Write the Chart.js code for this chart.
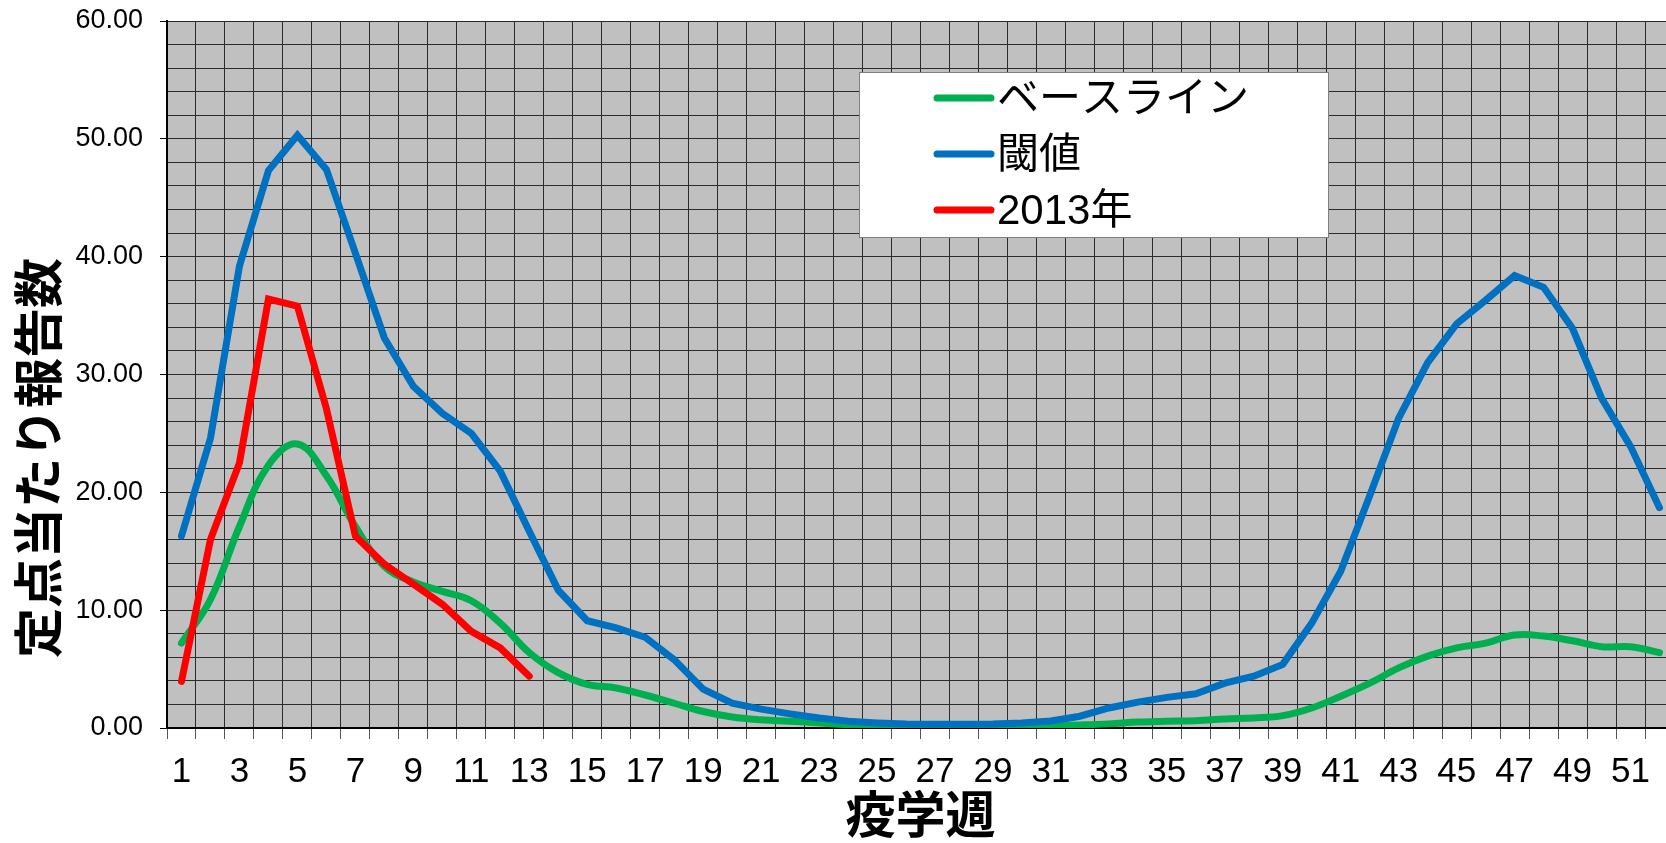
<!DOCTYPE html>
<html>
<head>
<meta charset="utf-8">
<script src="https://cdn.jsdelivr.net/npm/chart.js@4.4.1/dist/chart.umd.min.js"></script>
<style>
html,body{margin:0;padding:0;background:#fff;overflow:hidden;width:1666px;height:843px}
canvas{display:block}
</style>
</head>
<body>
<canvas id="c" width="1675" height="843"></canvas>
<script>
// ---- data ----
const weekLabels = ['1','2','3','4','5','6','7','8','9','10','11','12','13','14','15','16','17','18','19','20','21','22','23','24','25','26','27','28','29','30','31','32','33','34','35','36','37','38','39','40','41','42','43','44','45','46','47','48','49','50','51','52'];
const baseline = [7.2,10.9,17.1,22.3,24.1,21.4,17.1,13.7,12.4,11.6,10.8,8.9,6.4,4.7,3.7,3.4,2.8,2.1,1.4,0.94,0.7,0.57,0.43,0.28,0.2,0.15,0.14,0.14,0.14,0.15,0.2,0.26,0.35,0.5,0.57,0.62,0.76,0.85,1.05,1.7,2.7,3.8,5.1,6.1,6.8,7.2,7.9,7.8,7.4,6.9,6.9,6.4];
const threshold = [16.3,24.6,39.2,47.3,50.3,47.4,40.3,33.1,29.0,26.7,25.0,21.8,16.7,11.7,9.1,8.5,7.7,5.8,3.3,2.1,1.6,1.2,0.85,0.57,0.43,0.34,0.31,0.31,0.34,0.43,0.6,1.0,1.7,2.2,2.6,2.9,3.8,4.4,5.4,8.9,13.3,19.7,26.3,31.0,34.3,36.3,38.4,37.4,33.9,28.0,23.9,18.7];
const y2013 = [3.96,16.0,22.5,36.4,35.8,27.1,16.3,13.9,12.2,10.5,8.2,6.8,4.4];
const seriesNames = ['ベースライン','閾値','2013年'];
const xTitleText = '疫学週';
const yTitleText = '定点当たり報告数';
const yMin = 0, yMax = 60, yStep = 2, yLabelStep = 10;

// ---- plugins ----
const plotBg = {
  id: 'plotBg',
  beforeDraw(chart) {
    const {ctx, chartArea: a} = chart;
    ctx.save();
    ctx.fillStyle = '#c0c0c0';
    ctx.fillRect(a.left, a.top, a.right - a.left, a.bottom - a.top);
    ctx.restore();
  }
};
const yTitle = {
  id: 'yTitle',
  afterDraw(chart) {
    const ctx = chart.ctx;
    ctx.save();
    ctx.translate(38, 458);
    ctx.rotate(-Math.PI / 2);
    ctx.font = 'bold 50px "Noto Sans CJK JP"';
    ctx.textAlign = 'center';
    ctx.textBaseline = 'middle';
    ctx.fillStyle = '#000';
    ctx.fillText(yTitleText, 0, 0);
    ctx.restore();
  }
};
const legendBox = {
  id: 'legendBox',
  afterDraw(chart) {
    const ctx = chart.ctx;
    ctx.save();
    ctx.fillStyle = '#fff';
    ctx.fillRect(859, 72, 469, 165);
    ctx.strokeStyle = '#7f7f7f';
    ctx.lineWidth = 1;
    ctx.strokeRect(859.5, 72.5, 469, 165);
    const rows = [98, 154, 210];
    chart.data.datasets.forEach((ds, i) => {
      const y = rows[i];
      ctx.strokeStyle = ds.borderColor;
      ctx.lineWidth = 7;
      ctx.lineCap = 'round';
      ctx.beginPath();
      ctx.moveTo(937, y);
      ctx.lineTo(991, y);
      ctx.stroke();
      ctx.fillStyle = '#000';
      ctx.font = '42px "Liberation Sans", "Noto Sans CJK JP", sans-serif';
      ctx.textAlign = 'left';
      ctx.textBaseline = 'middle';
      ctx.fillText(ds.label, 997, y + 2);
    });
    ctx.restore();
  }
};

const gridColor = '#2b2b2b';

new Chart(document.getElementById('c'), {
  type: 'line',
  data: {
    labels: weekLabels,
    datasets: [
      { label: seriesNames[0], data: baseline, borderColor: '#00b050', borderWidth: 7, tension: 0.4, pointRadius: 0, borderCapStyle: 'round', order: 2, fill: false },
      { label: seriesNames[1], data: threshold, borderColor: '#0070c0', borderWidth: 7, tension: 0, pointRadius: 0, borderCapStyle: 'round', order: 1, fill: false },
      { label: seriesNames[2], data: y2013, borderColor: '#ff0000', borderWidth: 7, tension: 0, pointRadius: 0, borderCapStyle: 'round', order: 0, fill: false }
    ]
  },
  options: {
    responsive: false,
    animation: false,
    layout: { padding: { left: 0, top: 21, right: 1, bottom: 0 } },
    plugins: { legend: { display: false }, tooltip: { enabled: false } },
    scales: {
      x: {
        type: 'category',
        offset: true,
        grid: { offset: true, color: gridColor, lineWidth: 1, drawTicks: true, tickLength: 11, tickColor: '#555' },
        border: { color: '#000', width: 2 },
        ticks: {
          autoSkip: false, maxRotation: 0, minRotation: 0, padding: 12, color: '#000',
          font: { family: '"Liberation Sans", Arial, sans-serif', size: 35 },
          callback: (v, i) => (i % 2 === 0 ? weekLabels[i] : '')
        },
        title: {
          display: true, text: xTitleText, color: '#000',
          font: { family: '"Noto Sans CJK JP"', size: 50, weight: 'bold', lineHeight: 1 },
          padding: { top: 0, bottom: 4 }
        },
        afterFit(scale) { scale.height = 115; scale.paddingLeft = 0; scale.paddingRight = 0; }
      },
      y: {
        min: yMin, max: yMax,
        grid: {
          color: gridColor, lineWidth: 1, tickLength: 7,
          tickColor: c => (c.tick && c.tick.value % yLabelStep === 0) ? '#000' : 'rgba(0,0,0,0)'
        },
        border: { color: '#000', width: 2 },
        ticks: {
          autoSkip: false, stepSize: yStep, padding: 17, color: '#000',
          font: { family: '"Liberation Sans", Arial, sans-serif', size: 27 },
          callback: v => (v % yLabelStep === 0 ? Number(v).toFixed(2) : '')
        },
        afterFit(scale) { scale.width = 167; scale.paddingTop = 0; scale.paddingBottom = 0; }
      }
    }
  },
  plugins: [plotBg, yTitle, legendBox]
});
</script>
</body>
</html>
